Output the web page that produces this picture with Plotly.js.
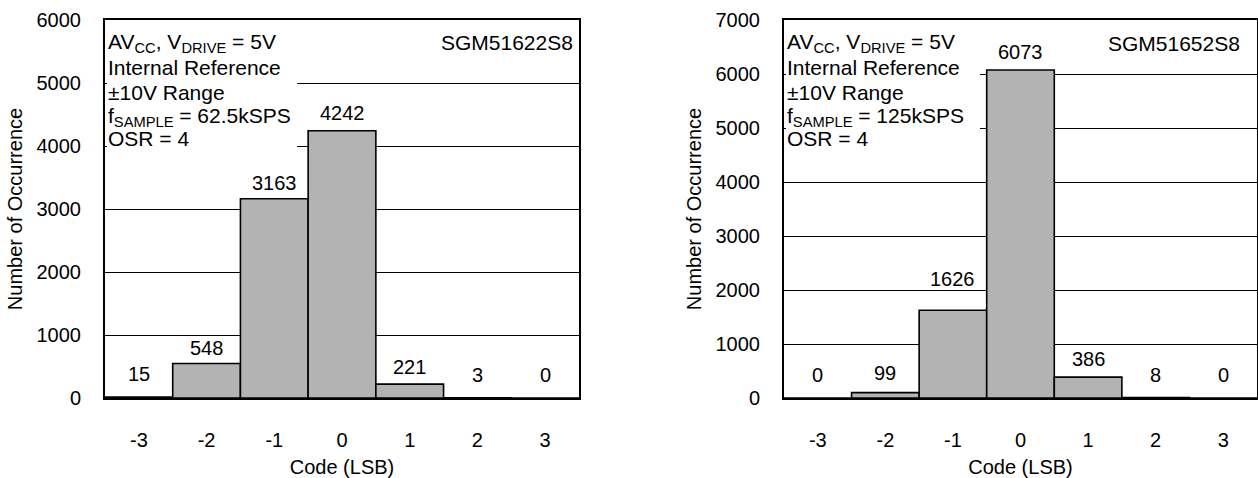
<!DOCTYPE html>
<html>
<head>
<meta charset="utf-8">
<script src="https://cdn.plot.ly/plotly-3.0.1.min.js"></script>
<style>html,body{margin:0;padding:0;background:#fff;}#chart{width:1258px;height:478px;}</style>
</head>
<body>
<div id="chart"></div>
<script>
// ---- data ----
const codes = [-3, -2, -1, 0, 1, 2, 3];
const codeLabels = ['-3', '-2', '-1', '0', '1', '2', '3'];
const countsA = [15, 548, 3163, 4242, 221, 3, 0];      // SGM51622S8
const countsB = [0, 99, 1626, 6073, 386, 8, 0];        // SGM51652S8
const tickValsA = [0, 1000, 2000, 3000, 4000, 5000, 6000];
const tickValsB = [0, 1000, 2000, 3000, 4000, 5000, 6000, 7000];
const deviceA = 'SGM51622S8';
const deviceB = 'SGM51652S8';
const condLinesA = ['AV<sub>CC</sub>, V<sub>DRIVE</sub> = 5V', 'Internal Reference', '±10V Range', 'f<sub>SAMPLE</sub> = 62.5kSPS', 'OSR = 4'];
const condLinesB = ['AV<sub>CC</sub>, V<sub>DRIVE</sub> = 5V', 'Internal Reference', '±10V Range', 'f<sub>SAMPLE</sub> = 125kSPS', 'OSR = 4'];

// ---- style ----
const FONT = 'Liberation Sans, Arial, sans-serif';
const labelLiftA = [23, 15, 16, 18, 17, 23, 23];
const labelLiftB = [23, 20, 31, 18, 18, 23, 23];
const lineOffsets = [23, 47, 72, 97, 118];

function barTrace(y, xa, ya) {
  return {
    type: 'bar', x: codes, y: y, xaxis: xa, yaxis: ya, width: 1,
    marker: {color: '#b3b3b3', line: {color: '#000', width: 1.6}},
    hoverinfo: 'x+y', showlegend: false
  };
}

function xAxis(domain, anchor) {
  return {
    domain: domain, anchor: anchor, range: [-3.5, 3.5], tickvals: codes, ticktext: codeLabels,
    ticks: '', showgrid: false, zeroline: false,
    showline: true, mirror: true, linecolor: '#000', linewidth: 2,
    ticklabelstandoff: 23,
    tickfont: {family: FONT, size: 20, color: '#000'},
    title: {text: 'Code (LSB)', font: {family: FONT, size: 20, color: '#000'}, standoff: 10}
  };
}
function yAxis(domain, anchor, maxV, tv) {
  return {
    domain: domain, anchor: anchor, range: [0, maxV], tickvals: tv,
    ticks: 'inside', ticklen: 4, tickcolor: '#000', tickwidth: 1,
    showgrid: true, gridcolor: '#000', gridwidth: 1, zeroline: false,
    showline: true, mirror: true, linecolor: '#000', linewidth: 2,
    ticklabelstandoff: 18,
    tickfont: {family: FONT, size: 20, color: '#000'},
    title: {text: 'Number of Occurrence', font: {family: FONT, size: 20, color: '#000'}, standoff: 9}
  };
}

const annotations = [];
// white background boxes behind the condition text (drawn first)
function addBox(xr, yr, w) {
  annotations.push({
    x: 0, y: 1, xref: xr, yref: yr, text: ' ', showarrow: false,
    xanchor: 'left', yanchor: 'top', xshift: 2, yshift: -2,
    width: w, height: 134, bgcolor: '#fff', borderpad: 0, borderwidth: 0,
    font: {family: FONT, size: 10, color: '#fff'}
  });
}
function addLabels(vals, lifts, xr, yr) {
  codes.forEach((c, i) => {
    annotations.push({
      x: c, y: vals[i], xref: xr, yref: yr, text: String(vals[i]),
      showarrow: false, xanchor: 'center', yanchor: 'middle', yshift: lifts[i],
      font: {family: FONT, size: 20, color: '#000'}
    });
  });
}
function addCond(lines, xr, yr) {
  lines.forEach((t, i) => {
    annotations.push({
      x: 0, y: 1, xref: xr, yref: yr, text: t, showarrow: false,
      xanchor: 'left', yanchor: 'middle', xshift: 1, yshift: -lineOffsets[i],
      font: {family: FONT, size: 21, color: '#000'}
    });
  });
}
addBox('x domain', 'y domain', 190);
addBox('x2 domain', 'y2 domain', 194);
addLabels(countsA, labelLiftA, 'x', 'y');
addLabels(countsB, labelLiftB, 'x2', 'y2');
addCond(condLinesA, 'x domain', 'y domain');
addCond(condLinesB, 'x2 domain', 'y2 domain');
annotations.push({x: 1, y: 1, xref: 'x domain', yref: 'y domain', text: deviceA, showarrow: false,
  xanchor: 'right', yanchor: 'middle', xshift: -4, yshift: -22, font: {family: FONT, size: 21, color: '#000'}});
annotations.push({x: 1, y: 1, xref: 'x2 domain', yref: 'y2 domain', text: deviceB, showarrow: false,
  xanchor: 'right', yanchor: 'middle', xshift: -15, yshift: -23, font: {family: FONT, size: 21, color: '#000'}});

const layout = {
  width: 1258, height: 478,
  margin: {l: 0, r: 0, t: 20, b: 80},
  paper_bgcolor: '#fff', plot_bgcolor: '#fff',
  bargap: 0, showlegend: false,
  font: {family: FONT, color: '#000'},
  xaxis: xAxis([105 / 1258, 579 / 1258], 'y'),
  yaxis: yAxis([0, 1], 'x', 6000, tickValsA),
  xaxis2: xAxis([784 / 1258, 1257 / 1258], 'y2'),
  yaxis2: yAxis([0, 1], 'x2', 7000, tickValsB),
  annotations: annotations
};

Plotly.newPlot('chart', [barTrace(countsA, 'x', 'y'), barTrace(countsB, 'x2', 'y2')], layout,
  {displayModeBar: false, staticPlot: true});
</script>
</body>
</html>
